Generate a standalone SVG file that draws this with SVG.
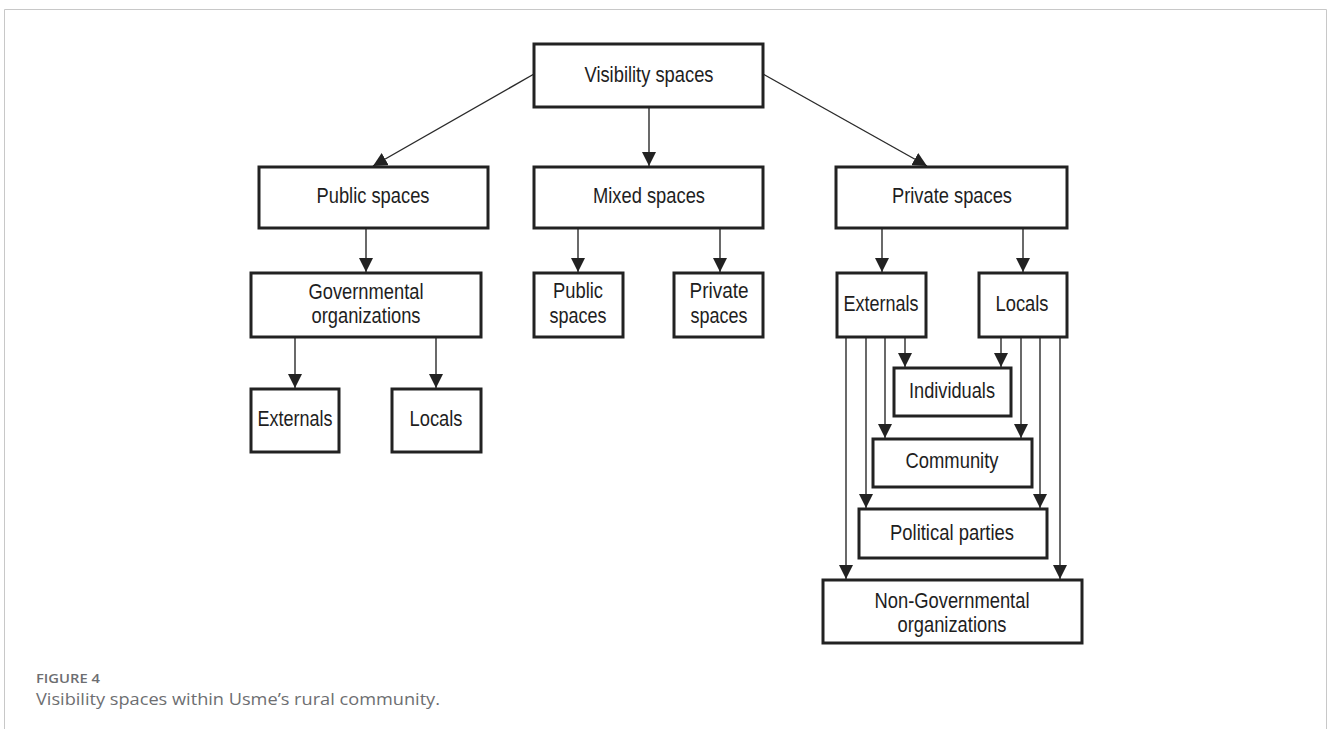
<svg xmlns="http://www.w3.org/2000/svg" width="1328" height="729" viewBox="0 0 1328 729">
<style>
.box{fill:#fff;stroke:#222;stroke-width:3}
.t{font-family:"Liberation Sans",Arial,sans-serif;font-size:22px;fill:#1e1e1e;text-anchor:middle}
.c{fill:none;stroke:#2a2a2a;stroke-width:1.4}
.cap1{font-family:"Open Sans","Liberation Sans",sans-serif;font-size:13px;font-weight:600;fill:#6d6e71}
.cap2{font-family:"Open Sans","Liberation Sans",sans-serif;font-size:16px;fill:#6d6e71}
</style>
<defs>
<marker id="ah" markerUnits="userSpaceOnUse" markerWidth="14" markerHeight="14" viewBox="0 0 12 12" refX="12" refY="6" orient="auto">
<path d="M0,0 L12,6 L0,12 Z" fill="#222"/>
</marker>
</defs>
<rect width="1328" height="729" fill="#fff"/>
<path d="M4.5,729 V9.5 H1326.5 V729" fill="none" stroke="#c8c8c8" stroke-width="1"/>

<g id="connectors">
<line class="c" x1="534" y1="74" x2="373" y2="166" marker-end="url(#ah)"/>
<line class="c" x1="649" y1="107" x2="649" y2="166" marker-end="url(#ah)"/>
<line class="c" x1="763" y1="74" x2="927" y2="166" marker-end="url(#ah)"/>
<line class="c" x1="366" y1="228" x2="366" y2="272" marker-end="url(#ah)"/>
<line class="c" x1="578" y1="228" x2="578" y2="272" marker-end="url(#ah)"/>
<line class="c" x1="720" y1="228" x2="720" y2="272" marker-end="url(#ah)"/>
<line class="c" x1="882" y1="228" x2="882" y2="272" marker-end="url(#ah)"/>
<line class="c" x1="1023" y1="228" x2="1023" y2="272" marker-end="url(#ah)"/>
<line class="c" x1="295" y1="337" x2="295" y2="388" marker-end="url(#ah)"/>
<line class="c" x1="436" y1="337" x2="436" y2="388" marker-end="url(#ah)"/>
<line class="c" x1="846" y1="337" x2="846" y2="579" marker-end="url(#ah)"/>
<line class="c" x1="866" y1="337" x2="866" y2="508" marker-end="url(#ah)"/>
<line class="c" x1="885" y1="337" x2="885" y2="438" marker-end="url(#ah)"/>
<line class="c" x1="905" y1="337" x2="905" y2="367" marker-end="url(#ah)"/>
<line class="c" x1="1001" y1="337" x2="1001" y2="367" marker-end="url(#ah)"/>
<line class="c" x1="1021" y1="337" x2="1021" y2="438" marker-end="url(#ah)"/>
<line class="c" x1="1040" y1="337" x2="1040" y2="508" marker-end="url(#ah)"/>
<line class="c" x1="1060" y1="337" x2="1060" y2="579" marker-end="url(#ah)"/>
</g>

<g id="visibility"><rect class="box" x="534" y="44" width="229" height="63"/><text class="t" x="649" y="82" textLength="129" lengthAdjust="spacingAndGlyphs">Visibility spaces</text></g>
<g id="public"><rect class="box" x="259" y="167" width="229" height="61"/><text class="t" x="373" y="203" textLength="113" lengthAdjust="spacingAndGlyphs">Public spaces</text></g>
<g id="mixed"><rect class="box" x="534" y="167" width="229" height="61"/><text class="t" x="649" y="203" textLength="112" lengthAdjust="spacingAndGlyphs">Mixed spaces</text></g>
<g id="private"><rect class="box" x="836" y="167" width="231" height="61"/><text class="t" x="952" y="203" textLength="120" lengthAdjust="spacingAndGlyphs">Private spaces</text></g>

<g id="gov"><rect class="box" x="251" y="273" width="230" height="64"/><text class="t" x="366" y="299" textLength="115" lengthAdjust="spacingAndGlyphs">Governmental</text><text class="t" x="366" y="323" textLength="109" lengthAdjust="spacingAndGlyphs">organizations</text></g>
<g id="gov-externals"><rect class="box" x="251" y="389" width="88" height="63"/><text class="t" x="295" y="426" textLength="75" lengthAdjust="spacingAndGlyphs">Externals</text></g>
<g id="gov-locals"><rect class="box" x="392" y="389" width="89" height="63"/><text class="t" x="436" y="426" textLength="53" lengthAdjust="spacingAndGlyphs">Locals</text></g>

<g id="mixed-public"><rect class="box" x="534" y="273" width="89" height="64"/><text class="t" x="578" y="298" textLength="50" lengthAdjust="spacingAndGlyphs">Public</text><text class="t" x="578" y="323" textLength="57" lengthAdjust="spacingAndGlyphs">spaces</text></g>
<g id="mixed-private"><rect class="box" x="674" y="273" width="89" height="64"/><text class="t" x="719" y="298" textLength="59" lengthAdjust="spacingAndGlyphs">Private</text><text class="t" x="719" y="323" textLength="57" lengthAdjust="spacingAndGlyphs">spaces</text></g>

<g id="priv-externals"><rect class="box" x="837" y="273" width="89" height="64"/><text class="t" x="881" y="311" textLength="75" lengthAdjust="spacingAndGlyphs">Externals</text></g>
<g id="priv-locals"><rect class="box" x="979" y="273" width="88" height="64"/><text class="t" x="1022" y="311" textLength="53" lengthAdjust="spacingAndGlyphs">Locals</text></g>

<g id="individuals"><rect class="box" x="894" y="368" width="117" height="48"/><text class="t" x="952" y="398" textLength="86" lengthAdjust="spacingAndGlyphs">Individuals</text></g>
<g id="community"><rect class="box" x="873" y="439" width="159" height="48"/><text class="t" x="952" y="468" textLength="93" lengthAdjust="spacingAndGlyphs">Community</text></g>
<g id="political"><rect class="box" x="859" y="509" width="188" height="49"/><text class="t" x="952" y="540" textLength="124" lengthAdjust="spacingAndGlyphs">Political parties</text></g>
<g id="ngo"><rect class="box" x="823" y="580" width="259" height="63"/><text class="t" x="952" y="608" textLength="155" lengthAdjust="spacingAndGlyphs">Non-Governmental</text><text class="t" x="952" y="632" textLength="109" lengthAdjust="spacingAndGlyphs">organizations</text></g>

<g id="caption">
<text class="cap1" x="36" y="683" textLength="64" lengthAdjust="spacingAndGlyphs">FIGURE 4</text>
<text class="cap2" x="36" y="705" textLength="404" lengthAdjust="spacingAndGlyphs">Visibility spaces within Usme’s rural community.</text>
</g>
</svg>
